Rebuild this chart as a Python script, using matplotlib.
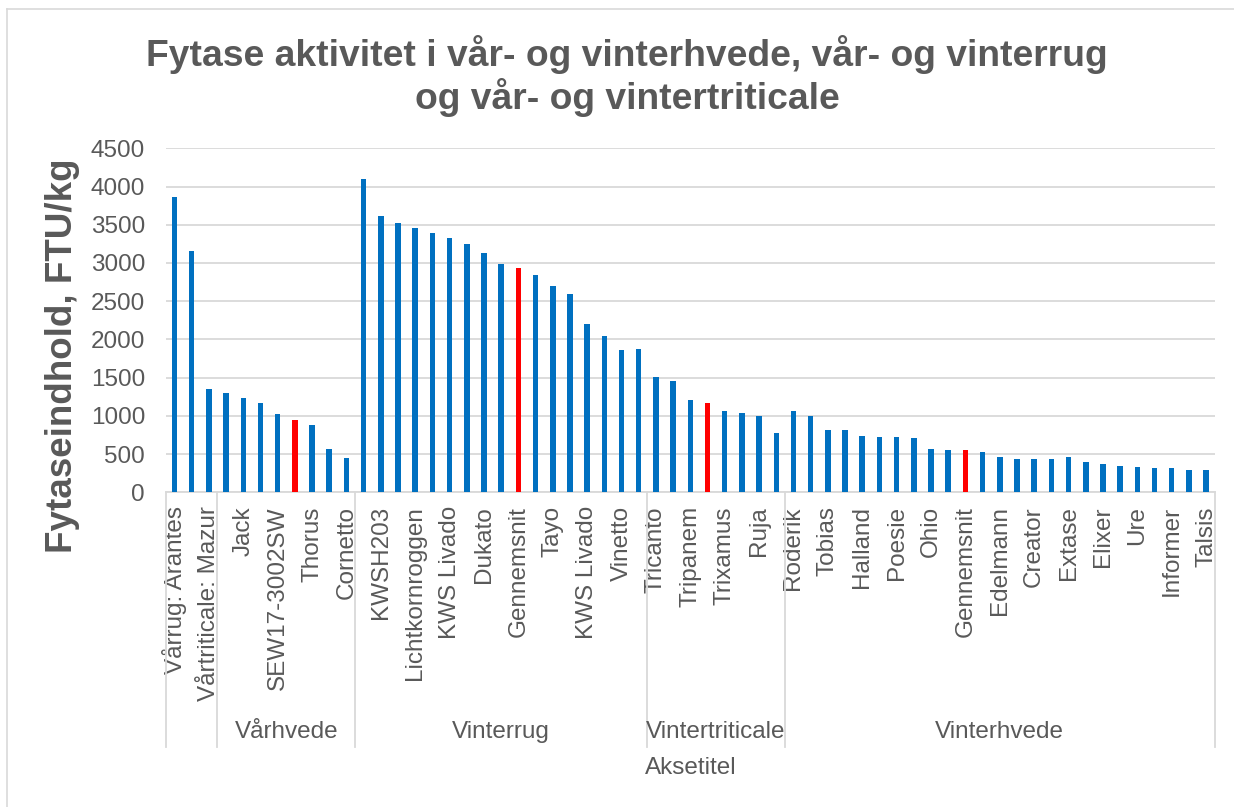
import matplotlib
matplotlib.use("Agg")
import matplotlib.pyplot as plt
from matplotlib.lines import Line2D

plt.rcParams['font.family'] = ['Liberation Sans', 'DejaVu Sans']

# ---------------- data ----------------
varieties = [
    "Vårrug: Arantes", "", "Vårtriticale: Mazur",
    "", "Jack", "", "SEW17-3002SW", "", "Thorus", "", "Cornetto",
    "", "KWSH203", "", "Lichtkornroggen", "", "KWS Livado", "", "Dukato", "",
    "Gennemsnit", "", "Tayo", "", "KWS Livado", "", "Vinetto", "",
    "Tricanto", "", "Tripanem", "", "Trixamus", "", "Ruja", "",
    "Roderik", "", "Tobias", "", "Halland", "", "Poesie", "", "Ohio", "",
    "Gennemsnit", "", "Edelmann", "", "Creator", "", "Extase", "", "Elixer", "",
    "Ure", "", "Informer", "", "Talsis",
]
values = [
    3860, 3150, 1355,
    1305, 1230, 1170, 1020, 942, 885, 560, 445,
    4095, 3615, 3525, 3458, 3388, 3330, 3245, 3125, 2987, 2935, 2847, 2700,
    2595, 2202, 2050, 1858, 1875,
    1509, 1456, 1208, 1169, 1060, 1038, 999, 776,
    1060, 999, 811, 811, 733, 720, 720, 706, 562, 549, 549, 532, 458, 440,
    432, 432, 458, 392, 366, 340, 331, 323, 314, 288, 288,
]
average_idx = [7, 20, 31, 46]
groups = ["", "Vårhvede", "Vinterrug", "Vintertriticale", "Vinterhvede"]
group_sizes = [3, 8, 17, 8, 25]
yticks = [0, 500, 1000, 1500, 2000, 2500, 3000, 3500, 4000, 4500]

title = "Fytase aktivitet i vår- og vinterhvede, vår- og vinterrug\nog vår- og vintertriticale"
ylabel = "Fytaseindhold, FTU/kg"
xlabel = "Aksetitel"

# ---------------- style ----------------
BLUE = "#0070C0"
RED = "#FF0000"
GRID = "#D9D9D9"
TXT = "#595959"

W, H = 1234, 807
fig = plt.figure(figsize=(W / 100, H / 100), dpi=100)

# chart border (only top/left visible in the crop)
fig.add_artist(Line2D([7 / W, 7 / W], [0, 1 - 9 / H], color=GRID, lw=1.2))
fig.add_artist(Line2D([7 / W, 1], [1 - 9 / H, 1 - 9 / H], color=GRID, lw=1.2))

x0, x1 = 165.9, 1214.7
ytop, ybot = 148.3, 492.3
ax = fig.add_axes([x0 / W, 1 - ybot / H, (x1 - x0) / W, (ybot - ytop) / H])

n = len(values)
colors = [RED if i in average_idx else BLUE for i in range(n)]
ax.bar(range(n), values, width=0.32, color=colors, zorder=3)

ax.set_xlim(-0.5, n - 0.5)
ax.set_ylim(0, 4500)
ax.set_yticks(yticks)
ax.set_yticklabels([str(v) for v in yticks], fontsize=17.5, color=TXT)
ax.yaxis.grid(True, color=GRID, lw=1.3, zorder=0)
ax.set_axisbelow(True)
ax.tick_params(axis='y', length=0, pad=15)

ax.set_xticks(range(n))
ax.set_xticklabels(varieties, rotation=90, fontsize=17.5, color=TXT, va='top', ha='center')
ax.tick_params(axis='x', length=0, pad=10)

for s in ['top', 'right', 'left']:
    ax.spines[s].set_visible(False)
ax.spines['bottom'].set_color(GRID)
ax.spines['bottom'].set_linewidth(1.3)

# multi-level category separators and group labels
axh = ybot - ytop
sep_bottom = -(747 - ybot) / axh
tr = ax.get_xaxis_transform()
edge = -0.5
for name, size in zip(groups, group_sizes):
    ax.add_line(Line2D([edge, edge], [0, sep_bottom], transform=tr, color=GRID,
                       lw=1.3, clip_on=False))
    ax.text(edge + size / 2, -(732 - ybot) / axh, name, transform=tr,
            ha='center', va='center', fontsize=17.5, color=TXT)
    edge += size
ax.add_line(Line2D([edge, edge], [0, sep_bottom], transform=tr, color=GRID,
                   lw=1.3, clip_on=False))

ax.text(0.5, -(768 - ybot) / axh, xlabel, transform=ax.transAxes,
        ha='center', va='center', fontsize=17.5, color=TXT)

fig.text(63 / W, 1 - 356 / H, ylabel, rotation=90, ha='center', va='center',
         fontsize=26.5, fontweight='bold', color=TXT)

fig.text(627 / W, 1 - 76 / H, title, ha='center', va='center', fontsize=26.8,
         fontweight='bold', color=TXT, linespacing=1.12)

fig.savefig("out.png", dpi=100, facecolor='white')
